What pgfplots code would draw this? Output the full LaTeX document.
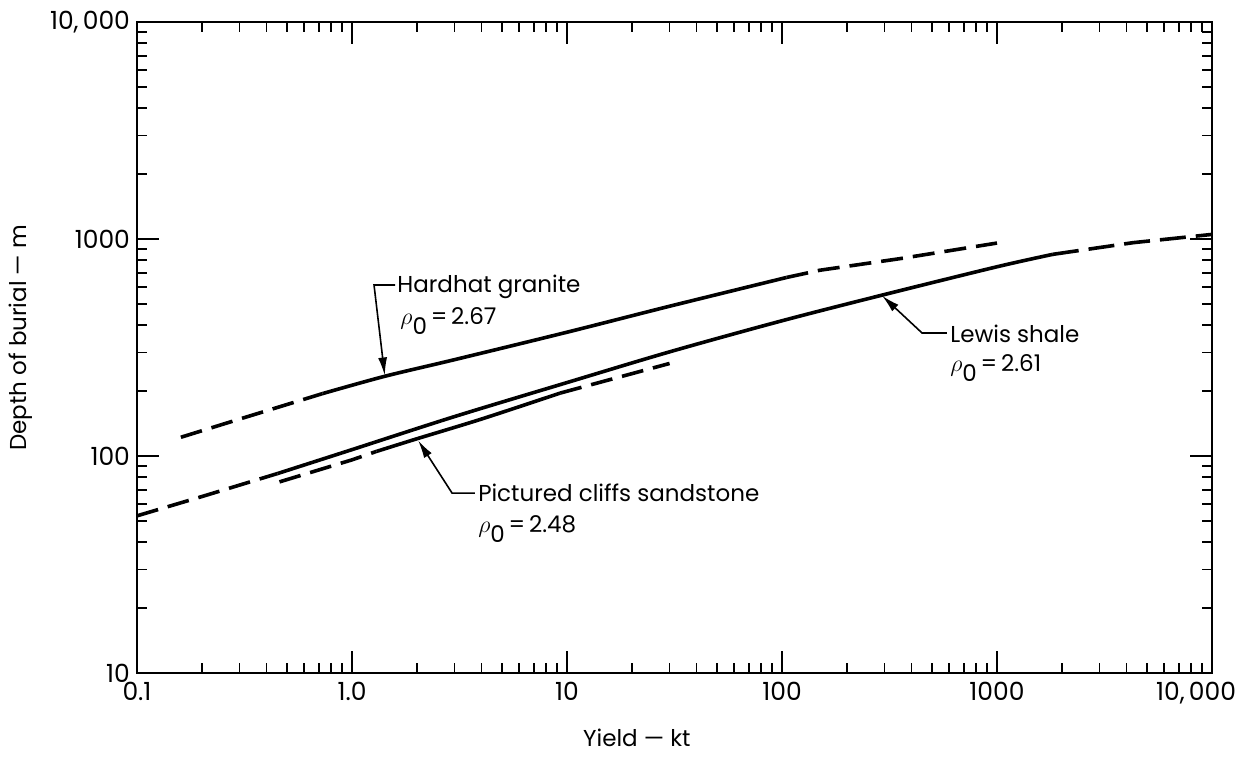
\documentclass[border=0pt]{standalone}
\usepackage{fontspec}
\setmainfont{Poppins}
\usepackage{pgfplots}
\pgfplotsset{compat=1.18}
\usetikzlibrary{arrows.meta}

\pgfplotstableread{
x y
0.16 122
0.3 148
0.73 194
}\hardlo
\pgfplotstableread{
x y
0.73 194
1.42 233
3 278
10 372
30 490
105 665
}\hardmid
\pgfplotstableread{
x y
105 665
150 718
354 812
1000 958
}\hardhi
\pgfplotstableread{
x y
0.1 53
0.2 65
0.45 83
}\lewislo
\pgfplotstableread{
x y
0.45 83
1 107
3 152
10 218
30 302
100 420
300 555
1000 745
1820 850
}\lewismid
\pgfplotstableread{
x y
1820 850
4300 962
10000 1050
}\lewishi
\pgfplotstableread{
x y
0.46 76
1.0 96
1.3 105
}\sandlo
\pgfplotstableread{
x y
1.3 105
2 120
4 148
9.3 195
}\sandmid
\pgfplotstableread{
x y
9.3 195
30 267
}\sandhi

\begin{document}
\begin{tikzpicture}[font=\fontsize{11.5}{13}\selectfont]
\useasboundingbox (-68.5pt,-41.5pt) rectangle (554pt,336.5pt);
\begin{axis}[
  at={(0pt,0pt)}, anchor=south west,
  scale only axis, width=537.5pt, height=325.5pt,
  xmode=log, ymode=log,
  xmin=0.1, xmax=10000, ymin=10, ymax=10000,
  xtick={0.1,1,10,100,1000,10000},
  xticklabels={0.1,1.0,10,100,1000,{\hspace*{-16pt}10,\,000}},
  ytick={10,100,1000,10000},
  yticklabels={10,100,1000,{10,\,000}},
  minor xtick={0.2,0.3,0.4,0.5,0.6,0.7,0.8,0.9,2,3,4,5,6,7,8,9,20,30,40,50,60,70,80,90,200,300,400,500,600,700,800,900,2000,3000,4000,5000,6000,7000,8000,9000},
  minor ytick={20,30,40,50,60,70,80,90,200,300,400,500,600,700,800,900,2000,3000,4000,5000,6000,7000,8000,9000},
  major tick length=11pt, minor tick length=5pt,
  every major tick/.style={black, line width=1pt},
  every minor tick/.style={black, line width=0.9pt},
  axis line style={line width=1.4pt},
  tick align=inside,
  /pgf/number format/assume math mode=true,
  xticklabel style={font=\fontsize{12.5}{14}\selectfont, yshift=-1pt},
  yticklabel style={font=\fontsize{12.5}{14}\selectfont},
  xlabel={Yield — kt},
  ylabel={Depth of burial — m},
  xlabel style={at={(rel axis cs:0.465,0)}, anchor=center, yshift=-32.5pt},
  ylabel style={at={(axis description cs:-0.108,0.515)}, anchor=center},
  clip=false,
]
\addplot[black, line width=1.8pt, dash pattern=on 11pt off 5pt] table {\hardlo};
\addplot[black, line width=1.8pt, smooth] table {\hardmid};
\addplot[black, line width=1.8pt, dash pattern=on 11pt off 5pt] table {\hardhi};
\addplot[black, line width=1.8pt, dash pattern=on 11pt off 5pt] table {\lewislo};
\addplot[black, line width=1.8pt, smooth] table {\lewismid};
\addplot[black, line width=1.8pt, dash pattern=on 13pt off 5pt] table {\lewishi};
\addplot[black, line width=1.8pt, dash pattern=on 11pt off 5pt] table {\sandlo};
\addplot[black, line width=1.8pt, smooth] table {\sandmid};
\addplot[black, line width=1.8pt, dash pattern=on 11pt off 5pt] table {\sandhi};

% Hardhat granite annotation
\draw[line width=0.8pt, -{Latex[length=9pt,width=4.5pt]}]
  (axis cs:1.585,614) -- (axis cs:1.266,614) -- (axis cs:1.42,235);
\node[anchor=base west, inner sep=0pt] at (axis cs:1.62,564) {Hardhat granite};
\node[anchor=base west, inner sep=0pt] at (axis cs:1.672,402) {$\rho$\raisebox{-5pt}{0}\,=\,2.67};

% Pictured cliffs sandstone annotation
\draw[line width=0.8pt, -{Latex[length=9pt,width=4.5pt]}]
  (axis cs:3.73,67.5) -- (axis cs:2.92,67.5) -- (axis cs:2.03,118);
\node[anchor=base west, inner sep=0pt] at (axis cs:3.85,61.4) {Pictured cliffs sandstone};
\node[anchor=base west, inner sep=0pt] at (axis cs:3.85,44.2) {$\rho$\raisebox{-5pt}{0}\,=\,2.48};

% Lewis shale annotation
\draw[line width=0.8pt, -{Latex[length=9pt,width=4.5pt]}]
  (axis cs:585,369) -- (axis cs:448,369) -- (axis cs:292,548);
\node[anchor=base west, inner sep=0pt] at (axis cs:604,332) {Lewis shale};
\node[anchor=base west, inner sep=0pt] at (axis cs:604,244) {$\rho$\raisebox{-5pt}{0}\,=\,2.61};
\end{axis}
\end{tikzpicture}
\end{document}
